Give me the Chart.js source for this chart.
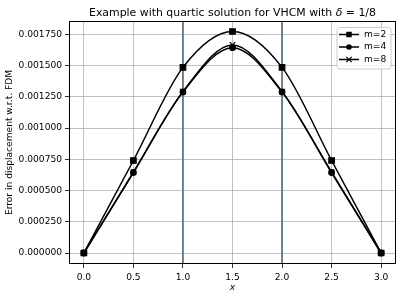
<!DOCTYPE html>
<html><head><meta charset="utf-8">
<script src="https://cdn.jsdelivr.net/npm/chart.js@4/dist/chart.umd.min.js"></script>
<style>html,body{margin:0;padding:0;background:#fff}#wrap{width:403px;height:299px}</style>
</head><body><div id="wrap"><canvas id="c" width="403" height="299"></canvas></div>
<script>
const xValues = [0, 0.5, 1, 1.5, 2, 2.5, 3];
const m2 = [0, 0.000740, 0.001485, 0.001772, 0.001485, 0.000740, 0];
const m4 = [0, 0.000644, 0.001288, 0.001643, 0.001288, 0.000644, 0];
const m8 = [0, 0.000646, 0.001291, 0.001665, 0.001291, 0.000646, 0];
const seriesNames = ['m=2', 'm=4', 'm=8'];
const xTicks = [0, 0.5, 1, 1.5, 2, 2.5, 3];
const yTicks = [0, 0.00025, 0.0005, 0.00075, 0.001, 0.00125, 0.0015, 0.00175];
const vLines = [1, 2];
const titleMain = 'Example with quartic solution for VHCM with ';
const titleSym = 'δ';
const titleRest = ' = 1/8';
const yLabel = 'Error in displacement w.r.t. FDM';
const xLabel = 'x';

const FONT = "'DejaVu Sans', sans-serif";
const TICK = 9.1;
Chart.defaults.font.family = FONT;
Chart.defaults.color = '#000';

const styles = [
  {pointStyle: 'rect', pointRadius: 3.9},
  {pointStyle: 'circle', pointRadius: 2.8},
  {pointStyle: 'crossRot', pointRadius: 3.8}
];
const seriesValues = [m2, m4, m8];

const datasets = seriesValues.map((vals, i) => ({
  label: seriesNames[i],
  data: xValues.map((x, j) => ({x: x, y: vals[j]})),
  borderColor: '#000',
  backgroundColor: '#000',
  borderWidth: 1.5,
  pointStyle: styles[i].pointStyle,
  pointRadius: styles[i].pointRadius,
  pointBorderWidth: 1.2,
  pointBackgroundColor: '#000',
  pointBorderColor: '#000',
  cubicInterpolationMode: 'monotone',
  order: 3 - i
}));

function drawMarker(ctx, style, x, y) {
  ctx.save();
  ctx.fillStyle = '#000'; ctx.strokeStyle = '#000'; ctx.lineWidth = 1.2;
  ctx.beginPath();
  if (style === 'rect') {
    const s = 2.75; ctx.rect(x - s, y - s, 2 * s, 2 * s); ctx.fill();
  } else if (style === 'circle') {
    ctx.arc(x, y, 2.8, 0, Math.PI * 2); ctx.fill();
  } else {
    const s = 2.7;
    ctx.moveTo(x - s, y - s); ctx.lineTo(x + s, y + s);
    ctx.moveTo(x + s, y - s); ctx.lineTo(x - s, y + s); ctx.stroke();
  }
  ctx.restore();
}

const decor = {
  id: 'decor',
  beforeDatasetsDraw(chart) {
    const {ctx, chartArea: a, scales: {x}} = chart;
    ctx.save();
    ctx.strokeStyle = '#5f7888';
    ctx.lineWidth = 1.8;
    vLines.forEach(v => {
      const px = x.getPixelForValue(v);
      ctx.beginPath(); ctx.moveTo(px, a.top); ctx.lineTo(px, a.bottom); ctx.stroke();
    });
    ctx.restore();
  },
  afterDatasetsDraw(chart) {
    const {ctx, chartArea: a} = chart;
    ctx.save();
    ctx.strokeStyle = '#000'; ctx.lineWidth = 1;
    ctx.strokeRect(Math.round(a.left) + 0.5, Math.round(a.top) + 0.5, Math.round(a.right - a.left) - 1, Math.round(a.bottom - a.top) - 1);
    // title
    ctx.fillStyle = '#000';
    ctx.textBaseline = 'alphabetic';
    const fMain = '10.9px ' + FONT, fIt = 'italic 10.9px ' + FONT;
    ctx.font = fMain; const w1 = ctx.measureText(titleMain).width; const w3 = ctx.measureText(titleRest).width;
    ctx.font = fIt; const w2 = ctx.measureText(titleSym).width;
    let tx = (a.left + a.right) / 2 - (w1 + w2 + w3) / 2; const ty = 15.5;
    ctx.textAlign = 'left';
    ctx.font = fMain; ctx.fillText(titleMain, tx, ty); tx += w1;
    ctx.font = fIt; ctx.fillText(titleSym, tx, ty); tx += w2;
    ctx.font = fMain; ctx.fillText(titleRest, tx, ty);
    // legend
    const bx = 337, by = 27.5, bw = 54, bh = 41.5, r = 2.5;
    ctx.beginPath();
    ctx.moveTo(bx + r, by); ctx.lineTo(bx + bw - r, by); ctx.arcTo(bx + bw, by, bx + bw, by + r, r);
    ctx.lineTo(bx + bw, by + bh - r); ctx.arcTo(bx + bw, by + bh, bx + bw - r, by + bh, r);
    ctx.lineTo(bx + r, by + bh); ctx.arcTo(bx, by + bh, bx, by + bh - r, r);
    ctx.lineTo(bx, by + r); ctx.arcTo(bx, by, bx + r, by, r); ctx.closePath();
    ctx.fillStyle = 'rgba(255,255,255,0.8)'; ctx.fill();
    ctx.strokeStyle = '#cccccc'; ctx.lineWidth = 1; ctx.stroke();
    ctx.font = TICK + 'px ' + FONT; ctx.textBaseline = 'middle'; ctx.fillStyle = '#000';
    seriesNames.forEach((n, i) => {
      const yy = 34.5 + i * 12.5;
      ctx.strokeStyle = '#000'; ctx.lineWidth = 1.5;
      ctx.beginPath(); ctx.moveTo(339, yy); ctx.lineTo(359, yy); ctx.stroke();
      drawMarker(ctx, styles[i].pointStyle, 349, yy);
      ctx.fillText(n, 364, yy);
    });
    ctx.restore();
  }
};

new Chart(document.getElementById('c'), {
  type: 'line',
  data: {datasets},
  options: {
    responsive: false, animation: false, devicePixelRatio: 1,
    layout: {padding: {left: 0, right: 7, top: 21, bottom: 0}},
    plugins: {legend: {display: false}, title: {display: false}, tooltip: {enabled: false}},
    scales: {
      x: {
        type: 'linear', min: -0.15, max: 3.15,
        afterBuildTicks: s => { s.ticks = xTicks.map(v => ({value: v})); },
        afterFit: s => { s.height = 35; },
        ticks: {callback: v => Number(v).toFixed(1), font: {size: TICK}, color: '#000', padding: 4, maxRotation: 0, autoSkip: false},
        grid: {color: '#b0b0b0', lineWidth: 0.8, tickColor: '#000', tickLength: 4},
        border: {display: false},
        title: {display: true, text: xLabel, font: {size: TICK, style: 'italic'}, color: '#000', padding: {top: 0, bottom: 6}}
      },
      y: {
        type: 'linear', min: -0.000088, max: 0.001856,
        afterBuildTicks: s => { s.ticks = yTicks.map(v => ({value: v})); },
        afterFit: s => { s.width = 69; },
        ticks: {callback: v => Number(v).toFixed(6), font: {size: TICK}, color: '#000', padding: 3, autoSkip: false},
        grid: {color: '#b0b0b0', lineWidth: 0.8, tickColor: '#000', tickLength: 4},
        border: {display: false},
        title: {display: true, text: yLabel, font: {size: TICK}, color: '#000', padding: {top: 4, bottom: 2}}
      }
    }
  },
  plugins: [decor]
});
</script></body></html>
